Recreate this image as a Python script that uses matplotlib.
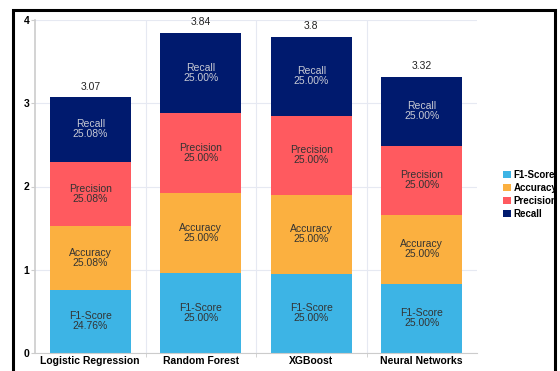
import matplotlib.pyplot as plt
from matplotlib.patches import Rectangle

plt.rcParams['font.family'] = ['Liberation Sans', 'DejaVu Sans']

models = ['Logistic Regression', 'Random Forest', 'XGBoost', 'Neural Networks']
metrics = ['F1-Score', 'Accuracy', 'Precision', 'Recall']
f1_score = [0.76, 0.96, 0.95, 0.83]
accuracy = [0.77, 0.96, 0.95, 0.83]
precision = [0.77, 0.96, 0.95, 0.83]
recall = [0.77, 0.96, 0.95, 0.83]
totals = [3.07, 3.84, 3.8, 3.32]
pct_labels = [
    ['24.76%', '25.00%', '25.00%', '25.00%'],
    ['25.08%', '25.00%', '25.00%', '25.00%'],
    ['25.08%', '25.00%', '25.00%', '25.00%'],
    ['25.08%', '25.00%', '25.00%', '25.00%'],
]

colors = ['#3db4e5', '#fbb040', '#ff5a5f', '#001a6e']
text_colors = ['#333333', '#333333', '#333333', '#c8cad4']

fig = plt.figure(figsize=(5.6, 3.71), dpi=100)
ax = fig.add_axes([35 / 560, 1 - 353 / 371, 442 / 560, 333 / 371])

x = list(range(len(models)))
bottoms = [0.0] * len(models)
series = [f1_score, accuracy, precision, recall]
for i, vals in enumerate(series):
    ax.bar(x, vals, width=0.73, bottom=bottoms, color=colors[i],
           label=metrics[i], zorder=2)
    for j, v in enumerate(vals):
        ax.text(x[j], bottoms[j] + v / 2, metrics[i] + '\n' + pct_labels[i][j],
                ha='center', va='center', fontsize=7.5, color=text_colors[i],
                linespacing=1.0, zorder=3)
    bottoms = [b + v for b, v in zip(bottoms, vals)]

for j, t in enumerate(totals):
    ax.text(x[j], bottoms[j] + 0.07, str(t), ha='center', va='bottom',
            fontsize=7.5, color='#222222')

ax.set_xlim(-0.5, 3.5)
ax.set_ylim(0, 4)
ax.set_xticks(x)
ax.set_xticklabels(models, fontsize=7.5, fontweight='bold')
ax.set_xticks([0.5, 1.5, 2.5], minor=True)
ax.set_yticks([0, 1, 2, 3, 4])
ax.set_yticklabels(['0', '1', '2', '3', '4'], fontsize=7.5, fontweight='bold')
ax.tick_params(axis='x', which='major', length=0, pad=2)
ax.tick_params(axis='x', which='minor', length=3, color='#cccccc')
ax.tick_params(axis='y', length=3, color='#cccccc', pad=1)
ax.grid(axis='y', color='#e6e9f2', linewidth=0.8, zorder=0)
ax.grid(axis='x', which='minor', color='#e6e9f2', linewidth=0.8, zorder=0)
for s in ['top', 'right']:
    ax.spines[s].set_visible(False)
ax.spines['left'].set_color('#cccccc')
ax.spines['bottom'].set_color('#cccccc')
ax.spines['left'].set_linewidth(1.2)

leg = fig.legend(loc='upper left', bbox_to_anchor=(503 / 560, 1 - 170 / 371),
                 frameon=False, fontsize=7, handlelength=0.8,
                 handleheight=0.8, handletextpad=0.3, labelspacing=0.3,
                 borderaxespad=0, borderpad=0)
for t in leg.get_texts():
    t.set_fontweight('bold')

# black frame around the chart
fig.patches.append(Rectangle((13 / 560, -0.05), 542 / 560, 1.05 - 10 / 371,
                             transform=fig.transFigure, fill=False,
                             edgecolor='black', linewidth=2.2))

fig.savefig('out.png', dpi=100)
